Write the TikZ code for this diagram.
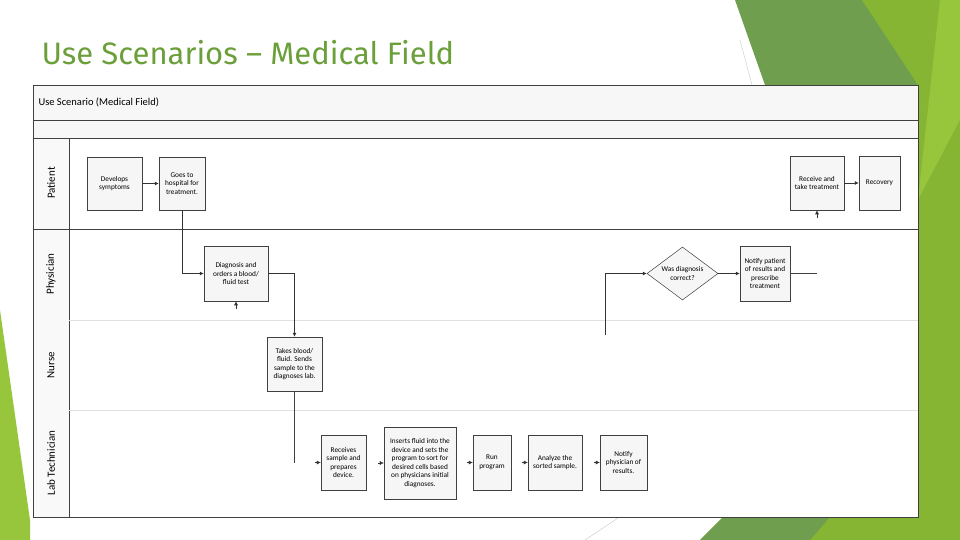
\documentclass[tikz,border=0pt]{standalone}
\usepackage{fontspec}
\setmainfont{Carlito}
\newfontfamily\titlefont{Fira Sans}
\usetikzlibrary{shapes.geometric,arrows.meta}
\definecolor{tgreen}{HTML}{6A9F3A}
\definecolor{dgreen}{HTML}{6F9E4E}
\definecolor{lgreen}{HTML}{86B534}
\definecolor{bgreen}{HTML}{97C63D}
\tikzset{
 box/.style={draw=black!75,fill=gray!7,line width=0.5pt,align=center,font=\fontsize{7.3}{8.6}\selectfont,inner sep=1pt},
 conn/.style={draw=black!80,line width=0.6pt,-{Latex[length=4pt,width=4pt]}},
 lane/.style={draw=black!75,line width=0.6pt},
 faint/.style={draw=black!12,line width=0.5pt},
 lbl/.style={rotate=90,font=\fontsize{11}{12}\selectfont}
}
\begin{document}
\begin{tikzpicture}[x=1pt,y=-1pt]
\useasboundingbox (0,0) rectangle (960,540);
% decorations
\fill[dgreen] (735,0) -- (870,0) -- (918,85) -- (765,85) -- cycle;
\fill[lgreen] (862,0) -- (945,0) -- (918,300) -- (918,85) -- cycle;
\fill[bgreen] (940,0) -- (960,0) -- (960,540) -- (918,540) -- (918,200) -- cycle;
\fill[lgreen] (918,200) -- (960,120) -- (960,540) -- (918,540) -- cycle;
\fill[lgreen] (700,540) -- (723,517) -- (918,517) -- (918,540) -- cycle;
\fill[dgreen] (700,540) -- (723,517) -- (830,517) -- (810,540) -- cycle;
\fill[bgreen] (0,310) -- (30,520) -- (30,540) -- (0,540) -- cycle;
\draw[black!25,line width=0.3pt] (740,40) -- (752,85);
\draw[black!25,line width=0.3pt] (585,540) -- (618,518);
% title
\node[anchor=west,text=tgreen,font=\titlefont\fontsize{31}{34}\selectfont] (title) at (38,53) {Use Scenarios – Medical Field};
% frame
\fill[white] (33,85) rectangle (918,517);
\fill[gray!6] (33,85) rectangle (918,138);
\fill[gray!5] (33,138) rectangle (69,517);
\draw[lane] (33,85) rectangle (918,517);
\draw[lane] (33,120) -- (918,120);
\draw[lane] (33,138) -- (918,138);
\draw[lane] (69,138) -- (69,517);
\draw[lane] (33,229) -- (918,229);
\draw[faint] (69,320) -- (918,320);
\draw[faint] (69,410) -- (918,410);
\node[anchor=west,font=\fontsize{10.5}{11}\selectfont] (hdr) at (35,102) {Use Scenario (Medical Field)};
\node[lbl] (lp) at (51,183) {Patient};
\node[lbl] (lph) at (51,274) {Physician};
\node[lbl] (ln) at (51,365) {Nurse};
\node[lbl] (ll) at (51,463) {Lab Technician};
% nodes
\node[box,minimum width=55pt,minimum height=53pt] (dev) at (114.5,183.5) {Develops\\symptoms};
\node[box,minimum width=46pt,minimum height=53pt] (goes) at (182,183.5) {Goes to\\hospital for\\treatment.};
\node[box,minimum width=64pt,minimum height=55pt] (diag) at (236,273.5) {Diagnosis and\\orders a blood/\\fluid test};
\node[box,minimum width=55pt,minimum height=54pt] (take) at (294.5,364) {Takes blood/\\fluid. Sends\\sample to the\\diagnoses lab.};
\node[box,minimum width=45pt,minimum height=55pt] (rec) at (343.5,462.5) {Receives\\sample and\\prepares\\device.};
\node[box,minimum width=72pt,minimum height=72pt] (ins) at (420,463) {Inserts fluid into the\\device and sets the\\program to sort for\\desired cells based\\on physicians initial\\diagnoses.};
\node[box,minimum width=38pt,minimum height=55pt] (run) at (492,462.5) {Run\\program};
\node[box,minimum width=54pt,minimum height=55pt] (ana) at (555,462.5) {Analyze the\\sorted sample.};
\node[box,minimum width=47pt,minimum height=55pt] (notp) at (623.5,462.5) {Notify\\physician of\\results.};
\node[box,diamond,aspect=1.35,minimum width=71pt,minimum height=53pt,inner sep=0pt] (was) at (682.5,273.5) {Was diagnosis\\correct?};
\node[box,minimum width=50pt,minimum height=55pt] (notpat) at (765,273.5) {Notify patient\\of results and\\prescribe\\treatment};
\node[box,minimum width=54pt,minimum height=54pt] (rtt) at (817,183) {Receive and\\take treatment};
\node[box,minimum width=41pt,minimum height=54pt] (recov) at (879.5,183) {Recovery};
% connectors
\draw[conn] (dev) -- (goes);
\draw[conn] (goes.south) |- (diag.west);
\draw[conn] (diag.east) -| (take.north);
\coordinate (tkend) at (294.5,463);
\draw[lane] (take.south) -- (tkend);
\coordinate (lbot) at (605,335);
\draw[conn] (lbot) |- (was.west);
\draw[conn] (was.east) -- (notpat.west);
\coordinate (npend) at (817,273.5);
\draw[lane] (notpat.east) -- (npend);
\coordinate (a1) at (236,309);
\draw[conn] (a1) -- (diag.south);
\coordinate (a2) at (817,218);
\draw[conn] (a2) -- (rtt.south);
\draw[conn] (rtt) -- (recov);
\foreach \n in {rec,ins,run,ana,notp}{
  \draw[-{Latex[length=4pt,width=4pt]},black!80] ([xshift=-6pt]\n.west) -- (\n.west);
}
\end{tikzpicture}
\end{document}
